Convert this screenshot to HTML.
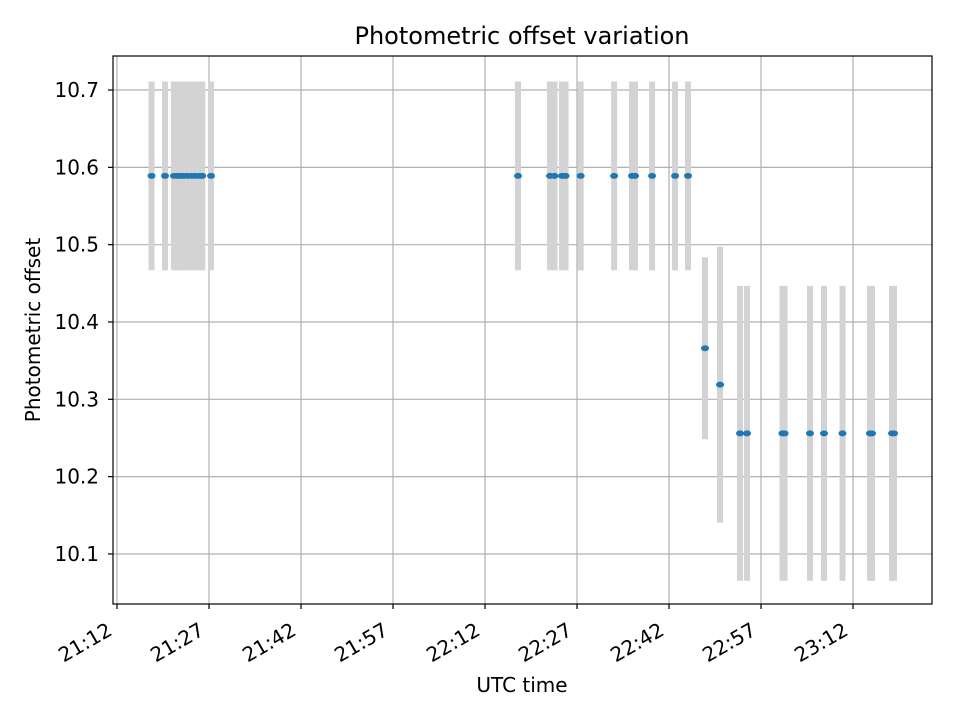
<!DOCTYPE html>
<html><head><meta charset="utf-8"><style>
html,body{margin:0;padding:0;background:#fff}
svg{display:block;font-family:"DejaVu Sans","Liberation Sans",sans-serif}
</style></head><body>
<svg id="chart" width="960" height="720" viewBox="0 0 960 720" xmlns="http://www.w3.org/2000/svg">
<rect width="960" height="720" fill="#fff"/>
<g id="grid"></g>
<g id="errbars"></g>
<g id="points"></g>
<rect x="113" y="56" width="819" height="548" fill="none" stroke="#000" stroke-width="1.2"/>
<g id="axes"></g>
<text x="522" y="44" text-anchor="middle" font-size="24">Photometric offset variation</text>
<text x="522" y="692" text-anchor="middle" font-size="20">UTC time</text>
<text transform="translate(40,330) rotate(-90)" text-anchor="middle" font-size="20">Photometric offset</text>
</svg>
<script>
// minutes after 21:00 UTC
const times = [17.63,19.83,21.29,21.9,22.4,22.9,23.5,24.2,24.8,25.5,25.9,27.33,
  77.38,82.6,83.33,84.55,85.13,87.6,93.05,95.97,96.46,99.24,102.99,105.1,
  107.87,110.32,113.58,114.72,120.5,120.85,124.99,127.27,130.29,134.77,135.1,138.36,138.69];
const offsets = [10.589,10.589,10.589,10.589,10.589,10.589,10.589,10.589,10.589,10.589,10.589,10.589,
  10.589,10.589,10.589,10.589,10.589,10.589,10.589,10.589,10.589,10.589,10.589,10.589,
  10.366,10.319,10.256,10.256,10.256,10.256,10.256,10.256,10.256,10.256,10.256,10.256,10.256];
const errors = [0.122,0.122,0.122,0.122,0.122,0.122,0.122,0.122,0.122,0.122,0.122,0.122,
  0.122,0.122,0.122,0.122,0.122,0.122,0.122,0.122,0.122,0.122,0.122,0.122,
  0.1177,0.1785,0.1907,0.1907,0.1907,0.1907,0.1907,0.1907,0.1907,0.1907,0.1907,0.1907,0.1907];
const xTickMinutes = [12,27,42,57,72,87,102,117,132];
const xTickLabels = ["21:12","21:27","21:42","21:57","22:12","22:27","22:42","22:57","23:12"];
const yTicks = [10.1,10.2,10.3,10.4,10.5,10.6,10.7];

const NS = "http://www.w3.org/2000/svg";
const L=113,R=932,T=56,B=604;
const xMin=11.348, xMax=144.88, yMin=10.0353, yMax=10.7440;
const xs = m => L + (m-xMin)/(xMax-xMin)*(R-L);
const ys = v => B - (v-yMin)/(yMax-yMin)*(B-T);
function mk(tag, attrs, parent){const e=document.createElementNS(NS,tag);for(const k in attrs)e.setAttribute(k,attrs[k]);parent.appendChild(e);return e;}

const grid=document.getElementById('grid'), axes=document.getElementById('axes');
const eb=document.getElementById('errbars'), pts=document.getElementById('points');

xTickMinutes.forEach((m,i)=>{
  const x=xs(m);
  const g=mk('line',{x1:x,x2:x,y1:T,y2:B,stroke:'#b0b0b0','stroke-width':1.2},grid);
  
  
  const t=mk('line',{x1:x,x2:x,y1:B,y2:B+5,stroke:'#000','stroke-width':1.2},axes);
  
  
  const lb=mk('text',{transform:`translate(${x-11},${B+17}) rotate(-30)`,x:0,y:15,'text-anchor':'end','font-size':20},axes);
  lb.textContent=xTickLabels[i];
  
  
});
yTicks.forEach(v=>{
  const y=ys(v);
  const g=mk('line',{x1:L,x2:R,y1:y,y2:y,stroke:'#b0b0b0','stroke-width':1.2},grid);
  
  
  const t=mk('line',{x1:L-5,x2:L,y1:y,y2:y,stroke:'#000','stroke-width':1.2},axes);
  
  
  const lb=mk('text',{x:L-14,y:y+7,'text-anchor':'end','font-size':20},axes);
  lb.textContent=v.toFixed(1);
  
  
});
times.forEach((m,i)=>{
  const x=xs(m);
  const r=mk('line',{x1:x,x2:x,y1:ys(offsets[i]+errors[i]),y2:ys(offsets[i]-errors[i]),stroke:'#d3d3d3','stroke-width':6},eb);
  
  
});
times.forEach((m,i)=>{
  const c=mk('ellipse',{cx:xs(m),cy:ys(offsets[i]),rx:4,ry:3,fill:'#1f77b4'},pts);
  
  
});
</script>
</body></html>
